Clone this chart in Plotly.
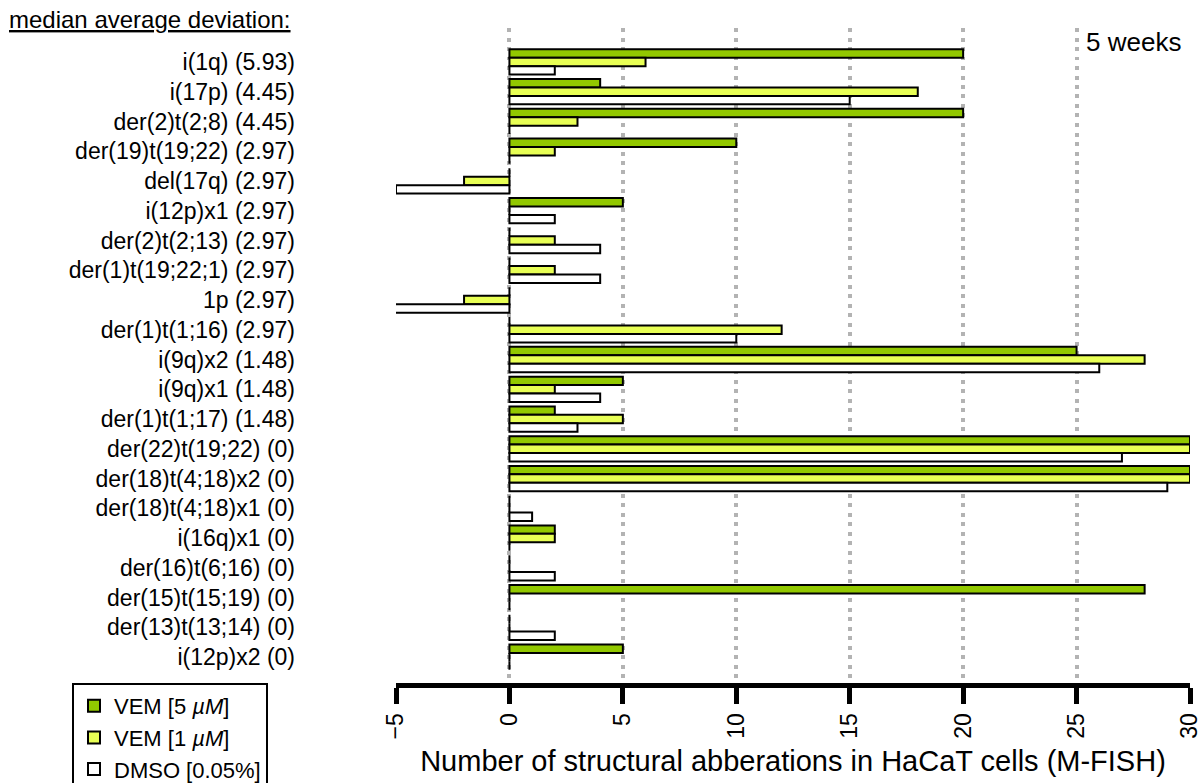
import plotly.graph_objects as go

categories = [
    "i(1q) (5.93)", "i(17p) (4.45)", "der(2)t(2;8) (4.45)", "der(19)t(19;22) (2.97)",
    "del(17q) (2.97)", "i(12p)x1 (2.97)", "der(2)t(2;13) (2.97)", "der(1)t(19;22;1) (2.97)",
    "1p (2.97)", "der(1)t(1;16) (2.97)", "i(9q)x2 (1.48)", "i(9q)x1 (1.48)",
    "der(1)t(1;17) (1.48)", "der(22)t(19;22) (0)", "der(18)t(4;18)x2 (0)",
    "der(18)t(4;18)x1 (0)", "i(16q)x1 (0)", "der(16)t(6;16) (0)", "der(15)t(15;19) (0)",
    "der(13)t(13;14) (0)", "i(12p)x2 (0)",
]
vem5 = [20, 4, 20, 10, 0, 5, 0, 0, 0, 0, 25, 5, 2, 30, 30, 0, 2, 0, 28, 0, 5]
vem1 = [6, 18, 3, 2, -2, 0, 2, 2, -2, 12, 28, 2, 5, 30, 30, 0, 2, 0, 0, 0, 0]
dmso = [2, 15, 0, 0, -5, 2, 4, 4, -8, 10, 26, 4, 3, 27, 29, 1, 0, 2, 0, 2, 0]
series_names = ["VEM [5 <i>µM</i>]", "VEM [1 <i>µM</i>]", "DMSO [0.05%]"]
series_values = [vem5, vem1, dmso]
series_colors = ["#92c800", "#e8ff55", "#ffffff"]
x_ticks = [-5, 0, 5, 10, 15, 20, 25, 30]
x_tick_labels = ["−5", "0", "5", "10", "15", "20", "25", "30"]

FONT = "Liberation Sans, Arial, sans-serif"
W, H = 1204, 783
PLOT_L, PLOT_R, PLOT_T, PLOT_B = 396, 1190, 28, 683
PW, PH = PLOT_R - PLOT_L, PLOT_B - PLOT_T

fig = go.Figure()
for name, vals, col in zip(series_names, series_values, series_colors):
    fig.add_trace(go.Bar(
        y=categories, x=vals, orientation="h", name=name, cliponaxis=False,
        marker=dict(color=col, line=dict(color="black", width=2)),
    ))

fig.update_layout(
    width=W, height=H,
    margin=dict(l=PLOT_L, r=W - PLOT_R, t=PLOT_T, b=H - PLOT_B, autoexpand=False),
    plot_bgcolor="white", paper_bgcolor="white",
    barmode="group", bargap=0.15, bargroupgap=0,
    font=dict(family=FONT, color="black", size=20),
    showlegend=True,
    legend=dict(
        xref="container", yref="container",
        x=72 / W, xanchor="left", y=1 - 683 / H, yanchor="top",
        bordercolor="black", borderwidth=2, bgcolor="white",
        font=dict(size=22, family=FONT), traceorder="normal",
        itemwidth=30, tracegroupgap=0,
    ),
)
fig.update_xaxes(
    range=[-5, 30], tickvals=x_ticks, ticktext=x_tick_labels,
    tickangle=-90, tickfont=dict(size=23),
    showline=True, linecolor="black", linewidth=5,
    ticks="outside", ticklen=16, tickwidth=5, tickcolor="black",
    showgrid=True, gridcolor="#b3b3b3", gridwidth=4, griddash="4px,5.5px",
    zeroline=False, automargin=False,
    title=dict(text="Number of structural abberations in HaCaT cells (M-FISH)",
               font=dict(size=29), standoff=14),
)
fig.update_yaxes(
    type="category", range=[20.87, -1.14],
    showgrid=False, zeroline=False, showline=False, ticks="",
    tickfont=dict(size=23), ticklabelstandoff=100, automargin=False,
)
fig.add_annotation(
    text="<u>median average deviation:</u>", xref="paper", yref="paper",
    x=(293 - PLOT_L) / PW, y=1.0 + 8 / PH, xanchor="right", yanchor="middle",
    showarrow=False, font=dict(size=24, family=FONT),
)
fig.add_annotation(
    text="5 weeks", xref="x", yref="paper", x=29.7, y=1.0 - 14 / PH,
    xanchor="right", yanchor="middle", showarrow=False,
    font=dict(size=26, family=FONT), bgcolor="rgba(255,255,255,0.8)",
)

fig.write_html("out.html", config={"displayModeBar": False},
               post_script="document.body.style.margin='0';")
